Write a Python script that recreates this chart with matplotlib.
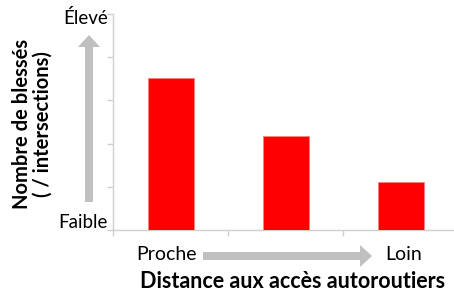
import numpy as np
import matplotlib
matplotlib.use('Agg')
import matplotlib.pyplot as plt
from matplotlib.patches import FancyArrow

plt.rcParams['font.family'] = ['Lato', 'DejaVu Sans']

categories = ['Proche', 'Moyen', 'Loin']
blesses = [3.53, 2.18, 1.12]
y_ticks = [0, 1, 2, 3, 4, 5]

W, H = 454, 295
fig = plt.figure(figsize=(W / 100, H / 100), dpi=100)
ax = fig.add_axes([113 / W, (H - 230) / H, 345 / W, 216 / H])

x = np.arange(len(categories))
ax.bar(x, blesses, width=0.4, color='#ff0000', edgecolor='#ff8080', linewidth=0.6, zorder=3)

ax.set_xlim(-0.5, len(categories) - 0.5)
ax.set_ylim(y_ticks[0], y_ticks[-1])
ax.set_yticks(y_ticks)
ax.set_yticklabels([])
ax.set_xticks(np.arange(len(categories) + 1) - 0.5)
ax.set_xticklabels([])
for s in ['top', 'right']:
    ax.spines[s].set_visible(False)
for s in ['left', 'bottom']:
    ax.spines[s].set_color('#d0d0d0')
    ax.spines[s].set_linewidth(1.0)
ax.tick_params(colors='#d0d0d0', length=4, width=1.0)

# y axis end labels
fig.text(108 / W, 1 - 18 / H, 'Élevé', ha='right', va='center', fontsize=13.5)
fig.text(108 / W, 1 - 222 / H, 'Faible', ha='right', va='center', fontsize=13.5)
fig.text(32 / W, 1 - 124 / H, 'Nombre de blessés\n( / intersections)', rotation=90,
         ha='center', va='center', fontsize=14.5, fontweight='bold', linespacing=1.05)

# x axis labels
fig.text(167 / W, 1 - 254 / H, categories[0], ha='center', va='center', fontsize=14)
fig.text(404 / W, 1 - 254 / H, categories[-1], ha='center', va='center', fontsize=14)
fig.text(293 / W, 1 - 281 / H, 'Distance aux accès autoroutiers', ha='center', va='center',
         fontsize=15.5, fontweight='bold')

# gray arrows, in pixel units
px = fig.dpi_scale_trans
arrow_kw = dict(width=0.08, head_width=0.22, head_length=0.12, length_includes_head=True,
                color='#c0c0c0', transform=px, linewidth=0)
fig.add_artist(FancyArrow(89 / 100, (H - 202) / 100, 0, (202 - 35) / 100, **arrow_kw))
fig.add_artist(FancyArrow(203 / 100, (H - 256) / 100, (372 - 203) / 100, 0, **arrow_kw))

fig.savefig('out.png', dpi=100)
